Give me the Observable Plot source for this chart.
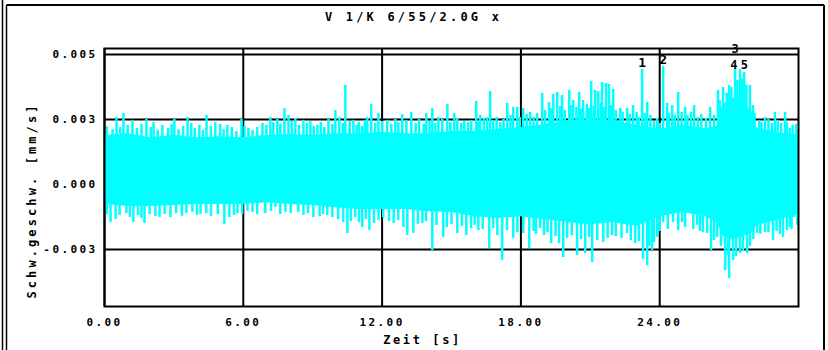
<!DOCTYPE html>
<html><head><meta charset="utf-8">
<script src="https://cdn.jsdelivr.net/npm/d3@7"></script>
<script src="https://cdn.jsdelivr.net/npm/@observablehq/plot@0.6"></script>
<style>
body{margin:0;background:#fff;}
#chart{width:828px;height:350px;}
</style></head><body><div id="chart"></div>
<script>
// ---- data ----
const titleText = "V 1/K 6/55/2.0G x";
const xLabel = "Zeit [s]";
const yLabel = "Schw.geschw. [mm/s]";
const xTicks = [0, 6, 12, 18, 24];
const xTickLabels = ["0.00", "6.00", "12.00", "18.00", "24.00"];
const yTicks = [-0.00275, 0, 0.00275, 0.0055];
const yTickLabels = ["-0.003", "0.000", "0.003", "0.005"];

// solid core of the signal (time s, upper / lower mm/s)
const envT  = [0,1,2,3,4,5,6,7,8,9,10,11,12,13,14,15,16,17,18,19,20,21,22,23,24,25,26,26.5,26.7,27,27.5,28,28.2,29,30];
const envHi = [0.00207,0.00215,0.00198,0.00207,0.00198,0.00202,0.00198,0.00207,0.00211,0.00207,0.00215,0.00215,0.00220,0.00215,0.00215,0.00224,0.00224,0.00232,0.00241,0.00253,0.00270,0.00275,0.00270,0.00249,0.00232,0.00249,0.00236,0.00245,0.00330,0.00360,0.00370,0.00300,0.00240,0.00220,0.00207];
const envLo = [-0.00085,-0.00093,-0.00093,-0.00089,-0.00085,-0.00085,-0.00085,-0.00077,-0.00085,-0.00089,-0.00098,-0.00106,-0.00106,-0.00106,-0.00115,-0.00119,-0.00136,-0.00144,-0.00136,-0.00148,-0.00161,-0.00170,-0.00161,-0.00178,-0.00136,-0.00119,-0.00136,-0.00165,-0.00215,-0.00233,-0.00225,-0.00203,-0.00175,-0.00153,-0.00127];

// larger positive spikes
const upT = [0.52,0.82,1.21,1.81,2.12,3.02,3.59,4.41,4.79,5.31,5.92,6.22,6.83,7.17,7.47,7.78,7.95,8.25,8.60,8.90,9.20,9.68,9.98,10.15,10.41,10.76,11.14,11.36,11.53,11.84,12.22,12.57,12.87,13.26,13.91,14.17,14.43,14.82,15.12,15.42,15.72,16.07,16.24,16.54,16.67,17.11,17.41,17.67,17.84,18.10,18.40,18.92,19.22,19.40,19.57,19.78,20.09,20.26,20.52,20.69,21.04,21.21,21.34,21.51,21.68,21.81,21.99,22.29,22.59,22.85,23.24,23.46,23.89,24.15,24.32,24.54,24.80,25.10,25.49,26.18,26.52,26.74,27.00,27.26,27.47,27.65,27.90,28.03,28.55,28.98,29.42,29.63];
const upV = [0.00283,0.00300,0.00271,0.00275,0.00262,0.00275,0.00283,0.00292,0.00262,0.00250,0.00275,0.00237,0.00258,0.00283,0.00275,0.00321,0.00292,0.00279,0.00271,0.00266,0.00250,0.00275,0.00313,0.00283,0.00419,0.00271,0.00245,0.00283,0.00338,0.00300,0.00271,0.00275,0.00296,0.00305,0.00300,0.00321,0.00283,0.00338,0.00300,0.00258,0.00262,0.00351,0.00292,0.00283,0.00393,0.00262,0.00343,0.00326,0.00326,0.00321,0.00305,0.00385,0.00347,0.00381,0.00389,0.00376,0.00398,0.00355,0.00389,0.00355,0.00436,0.00398,0.00393,0.00431,0.00427,0.00423,0.00402,0.00321,0.00321,0.00334,0.00486,0.00347,0.00279,0.00499,0.00343,0.00334,0.00389,0.00326,0.00334,0.00326,0.00398,0.00410,0.00419,0.00491,0.00486,0.00474,0.00419,0.00334,0.00283,0.00305,0.00305,0.00237];

// smaller positive spikes along the upper edge
const up2T = [0.1,0.35,0.68,1.0,1.4,1.6,2.0,2.3,2.5,2.75,2.9,3.2,3.4,3.75,3.9,4.1,4.25,4.6,5.0,5.15,5.5,5.7,6.05,6.4,6.6,7.0,7.3,7.6,8.1,8.4,8.75,9.05,9.35,9.5,9.85,10.3,10.6,10.9,11.0,11.25,11.7,12.0,12.4,12.7,13.05,13.45,13.6,13.8,14.05,14.3,14.6,14.95,15.25,15.55,15.85,16.15,16.4,16.8,16.95,17.25,17.55,17.95,18.25,18.55,18.7,19.05,19.3,19.7,19.9,20.15,20.4,20.6,20.85,20.95,21.15,21.45,21.6,21.9,22.1,22.4,22.7,23.0,23.1,23.35,23.6,23.75,24.0,24.4,24.65,24.95,25.2,25.35,25.65,25.8,26.0,26.35,26.6,26.9,27.1,27.35,27.55,27.75,28.1,28.3,28.4,28.7,28.85,29.1,29.25,29.5,29.75,29.9];
const up2V = [0.00245,0.00232,0.00241,0.00250,0.00237,0.00254,0.00241,0.00228,0.00250,0.00237,0.00254,0.00232,0.00245,0.00258,0.00237,0.00250,0.00228,0.00245,0.00254,0.00232,0.00241,0.00224,0.00245,0.00228,0.00241,0.00250,0.00262,0.00254,0.00266,0.00250,0.00258,0.00245,0.00262,0.00241,0.00254,0.00258,0.00266,0.00250,0.00262,0.00271,0.00258,0.00266,0.00254,0.00262,0.00271,0.00258,0.00275,0.00254,0.00266,0.00258,0.00275,0.00262,0.00279,0.00266,0.00271,0.00262,0.00279,0.00271,0.00283,0.00275,0.00292,0.00283,0.00296,0.00283,0.00300,0.00313,0.00321,0.00330,0.00313,0.00334,0.00326,0.00317,0.00338,0.00321,0.00330,0.00343,0.00326,0.00334,0.00313,0.00305,0.00296,0.00305,0.00283,0.00300,0.00292,0.00266,0.00258,0.00300,0.00292,0.00305,0.00292,0.00305,0.00283,0.00296,0.00279,0.00292,0.00355,0.00385,0.00410,0.00440,0.00445,0.00420,0.00300,0.00271,0.00262,0.00275,0.00258,0.00271,0.00258,0.00262,0.00250,0.00254];

// larger negative spikes
const dnT = [0.26,0.48,1.25,1.73,2.38,3.54,4.15,5.18,5.75,6.18,7.39,7.82,8.38,9.03,9.63,10.32,10.50,10.84,11.14,11.45,12.05,12.92,13.09,13.35,13.74,14.17,14.64,15.25,15.64,16.16,16.63,16.98,17.19,17.67,18.10,18.36,18.83,19.31,19.65,19.83,20.43,20.78,21.08,21.56,21.94,22.59,22.94,23.28,23.46,23.67,23.89,24.15,24.58,24.97,25.31,25.62,25.87,26.22,26.48,26.83,27.00,27.17,27.47,27.78,28.21,28.55,28.90,29.33,29.63,29.81];
const dnV = [-0.00161,-0.00148,-0.00161,-0.00165,-0.00140,-0.00123,-0.00127,-0.00169,-0.00123,-0.00114,-0.00097,-0.00118,-0.00118,-0.00140,-0.00131,-0.00161,-0.00207,-0.00140,-0.00182,-0.00195,-0.00140,-0.00182,-0.00216,-0.00207,-0.00165,-0.00279,-0.00224,-0.00207,-0.00216,-0.00195,-0.00271,-0.00216,-0.00321,-0.00228,-0.00207,-0.00271,-0.00186,-0.00250,-0.00250,-0.00309,-0.00300,-0.00292,-0.00330,-0.00245,-0.00216,-0.00207,-0.00250,-0.00317,-0.00343,-0.00279,-0.00224,-0.00161,-0.00161,-0.00161,-0.00097,-0.00173,-0.00203,-0.00279,-0.00224,-0.00364,-0.00398,-0.00321,-0.00292,-0.00292,-0.00207,-0.00203,-0.00237,-0.00224,-0.00182,-0.00140];

// smaller negative spikes along the lower edge
const dn2T = [0.1,0.65,0.95,1.1,1.45,1.6,1.95,2.2,2.6,2.85,3.1,3.35,3.8,4.0,4.4,4.6,4.9,5.4,5.6,5.95,6.4,6.6,6.95,7.2,7.6,8.05,8.6,8.8,9.3,9.45,9.85,10.1,10.65,11.0,11.3,11.65,11.85,12.3,12.5,12.7,13.55,13.9,14.35,14.8,15.0,15.45,15.85,16.0,16.35,16.8,17.4,17.85,18.55,18.65,19.0,19.15,19.5,20.0,20.2,20.6,20.95,21.3,21.75,22.1,22.35,22.75,23.1,23.55,23.75,24.0,24.35,24.8,25.1,25.45,25.75,26.05,26.35,26.65,26.95,27.3,27.6,27.9,28.05,28.35,28.7,29.05,29.2,29.5,29.7,29.95];
const dn2V = [-0.00127,-0.00131,-0.00123,-0.00140,-0.00131,-0.00144,-0.00127,-0.00135,-0.00127,-0.00140,-0.00123,-0.00135,-0.00118,-0.00131,-0.00123,-0.00135,-0.00127,-0.00140,-0.00131,-0.00127,-0.00118,-0.00127,-0.00123,-0.00114,-0.00127,-0.00123,-0.00131,-0.00123,-0.00135,-0.00127,-0.00140,-0.00148,-0.00157,-0.00161,-0.00148,-0.00165,-0.00152,-0.00157,-0.00165,-0.00152,-0.00169,-0.00157,-0.00173,-0.00182,-0.00169,-0.00178,-0.00186,-0.00173,-0.00190,-0.00186,-0.00195,-0.00203,-0.00199,-0.00211,-0.00216,-0.00203,-0.00220,-0.00228,-0.00216,-0.00233,-0.00224,-0.00237,-0.00228,-0.00220,-0.00228,-0.00237,-0.00241,-0.00262,-0.00245,-0.00199,-0.00190,-0.00195,-0.00182,-0.00190,-0.00199,-0.00207,-0.00237,-0.00262,-0.00300,-0.00305,-0.00283,-0.00262,-0.00233,-0.00211,-0.00203,-0.00199,-0.00211,-0.00195,-0.00190,-0.00173];

// marked peaks
const peakLabels = ["1", "2", "3", "4", "5"];
const peakT = [23.24, 24.15, 27.26, 27.40, 27.47];
const peakV = [0.00486, 0.00499, 0.00491, 0.00486, 0.00486];

// ---- build tables ----
const env = envT.map((t, i) => ({t, hi: envHi[i], lo: envLo[i]}));
const spikes = [
  ...upT.map((t, i) => ({t, v: upV[i]})),
  ...up2T.map((t, i) => ({t, v: up2V[i]})),
  ...dnT.map((t, i) => ({t, v: dnV[i]})),
  ...dn2T.map((t, i) => ({t, v: dn2V[i]}))
];
const peaks = peakLabels.map((l, i) => ({l, t: peakT[i], v: peakV[i]}));
const xFmt = new Map(xTicks.map((d, i) => [d, xTickLabels[i]]));
const yFmt = new Map(yTicks.map((d, i) => [d, yTickLabels[i]]));
const cyan = "#00ffff";
const F = "DejaVu Sans Mono";
const pk = l => peaks.filter(p => p.l === l);

const chart = Plot.plot({
  width: 828, height: 350,
  marginLeft: 104, marginRight: 30, marginTop: 48, marginBottom: 44,
  style: {background: "#fff", color: "#000", fontFamily: F},
  x: {domain: [0, 30]},
  y: {domain: [-0.00516, 0.00575]},
  marks: [
    Plot.gridX(xTicks, {stroke: "#000", strokeOpacity: 1, strokeWidth: 2}),
    Plot.gridY(yTicks, {stroke: "#000", strokeOpacity: 1, strokeWidth: 2}),
    Plot.areaY(env, {x: "t", y1: "lo", y2: "hi", fill: cyan}),
    Plot.ruleX(spikes, {x: "t", y1: 0, y2: "v", stroke: cyan, strokeWidth: 2.5}),
    Plot.frame({stroke: "#000", strokeWidth: 2}),
    Plot.axisX(xTicks, {tickSize: 0, tickPadding: 12, tickFormat: d => xFmt.get(d), label: null, fontSize: 11, fontWeight: "bold"}),
    Plot.axisY(yTicks, {tickSize: 0, tickPadding: 7, tickFormat: d => yFmt.get(d), label: null, fontSize: 11, fontWeight: "bold"}),
    Plot.text(pk("1"), {x: "t", y: "v", text: "l", dy: -7, fontSize: 13, fontWeight: "bold"}),
    Plot.text(pk("2"), {x: "t", y: "v", text: "l", dy: -7, fontSize: 13, fontWeight: "bold"}),
    Plot.text(pk("3"), {x: "t", y: "v", text: "l", dy: -19, fontSize: 12, fontWeight: "bold"}),
    Plot.text(pk("4"), {x: "t", y: "v", text: "l", dy: -4, dx: -4.5, fontSize: 12, fontWeight: "bold"}),
    Plot.text(pk("5"), {x: "t", y: "v", text: "l", dy: -4, dx: 4.5, fontSize: 12, fontWeight: "bold"}),
    Plot.text([titleText], {frameAnchor: "top", lineAnchor: "middle", dy: -31, dx: -38, fontSize: 12, fontWeight: "bold"}),
    Plot.text([xLabel], {frameAnchor: "bottom", lineAnchor: "middle", dy: 34, dx: -29, fontSize: 12, fontWeight: "bold"}),
    Plot.text([yLabel], {frameAnchor: "left", textAnchor: "middle", lineAnchor: "middle", rotate: -90, dx: -72, dy: 23, fontSize: 12, fontWeight: "bold"})
  ]
});
document.getElementById("chart").appendChild(chart);

// letter spacing to imitate the wide plotter font
const svg = d3.select(chart);
svg.selectAll("text").each(function() {
  const t = this.textContent;
  let ls = 2.4;
  if (t === titleText) ls = 3.2;
  else if (t === xLabel) ls = 2.6;
  else if (t === yLabel) ls = 3.1;
  else if (peakLabels.includes(t)) ls = 0;
  d3.select(this).style("letter-spacing", ls + "px").style("font-family", F).style("font-weight", "bold");
});

// outer drawing frame
const border = svg.append("g").attr("stroke", "#000").attr("fill", "none");
border.append("line").attr("x1", 2.5).attr("x2", 2.5).attr("y1", 0).attr("y2", 350).attr("stroke-width", 1.5);
border.append("line").attr("x1", 6.5).attr("x2", 6.5).attr("y1", 5).attr("y2", 350).attr("stroke-width", 1.5);
border.append("line").attr("x1", 6.5).attr("x2", 824).attr("y1", 5).attr("y2", 5).attr("stroke-width", 2);
border.append("line").attr("x1", 824).attr("x2", 824).attr("y1", 5).attr("y2", 350).attr("stroke-width", 2);
</script></body></html>
